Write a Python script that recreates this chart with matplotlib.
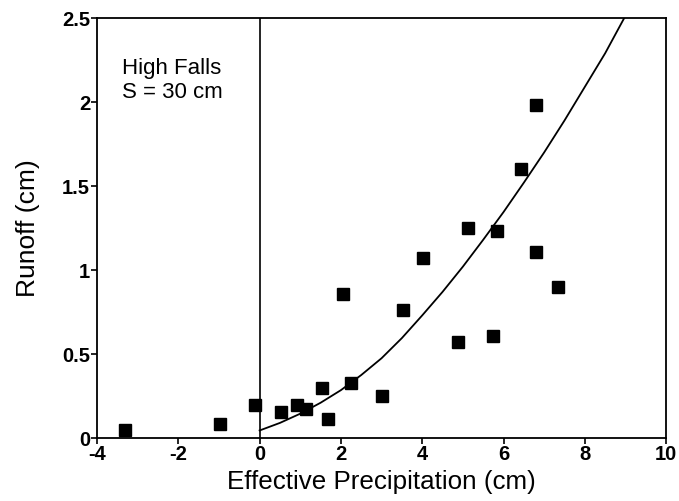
import numpy as np
import matplotlib.pyplot as plt

plt.rcParams['font.family'] = ['Liberation Sans', 'DejaVu Sans']
plt.rcParams['axes.unicode_minus'] = False

# observed events (effective precipitation, runoff) in cm
precip = [-3.3, -0.98, -0.12, 0.52, 0.93, 1.15, 1.53, 1.68, 2.04, 2.24, 3.0,
          3.52, 4.03, 4.87, 5.12, 5.75, 5.85, 6.42, 6.8, 6.8, 7.33]
runoff = [0.045, 0.085, 0.195, 0.155, 0.195, 0.175, 0.295, 0.115, 0.86, 0.325, 0.25,
          0.76, 1.07, 0.57, 1.25, 0.61, 1.23, 1.6, 1.98, 1.11, 0.90]

# fitted curve
curve_x = [0, 0.5, 1, 1.5, 2, 2.5, 3, 3.5, 4, 4.5, 5, 5.5, 6, 6.5, 7, 7.5, 8, 8.5, 8.97]
curve_y = [0.045, 0.09, 0.145, 0.21, 0.285, 0.375, 0.475, 0.595, 0.73, 0.87, 1.02,
           1.18, 1.345, 1.52, 1.70, 1.89, 2.09, 2.29, 2.5]

x_ticks = [-4, -2, 0, 2, 4, 6, 8, 10]
y_ticks = [0, 0.5, 1, 1.5, 2, 2.5]
y_labels = ['0', '0.5', '1', '1.5', '2', '2.5']


def main():
    fig = plt.figure(figsize=(6.79, 5.01), dpi=100)
    ax = fig.add_axes([0.1429, 0.1257, 0.981 - 0.1429, 0.964 - 0.1257])

    ax.axvline(0, color='black', lw=1.2)
    ax.plot(curve_x, curve_y, color='black', lw=1.3)
    ax.plot(precip, runoff, 's', color='black', ms=8, clip_on=False)

    ax.set_xlim(-4, 10)
    ax.set_ylim(0, 2.5)
    ax.set_xticks(x_ticks)
    ax.set_yticks(y_ticks)
    ax.set_yticklabels(y_labels)
    ax.tick_params(direction='out', length=4, width=1.2, labelsize=14.5,
                   top=False, right=False, pad=1)
    for lbl in ax.get_xticklabels() + ax.get_yticklabels():
        lbl.set_fontweight('bold')
    for sp in ax.spines.values():
        sp.set_linewidth(1.3)

    ax.set_xlabel("Effective Precipitation (cm)", fontsize=18.7, labelpad=4)
    ax.set_ylabel("Runoff (cm)", fontsize=19, labelpad=16)

    ax.text(-3.38, 2.26, "High Falls\nS = 30 cm", fontsize=16, va='top',
            linespacing=1.15)

    fig.savefig("out.png", dpi=100)


if __name__ == '__main__':
    main()
